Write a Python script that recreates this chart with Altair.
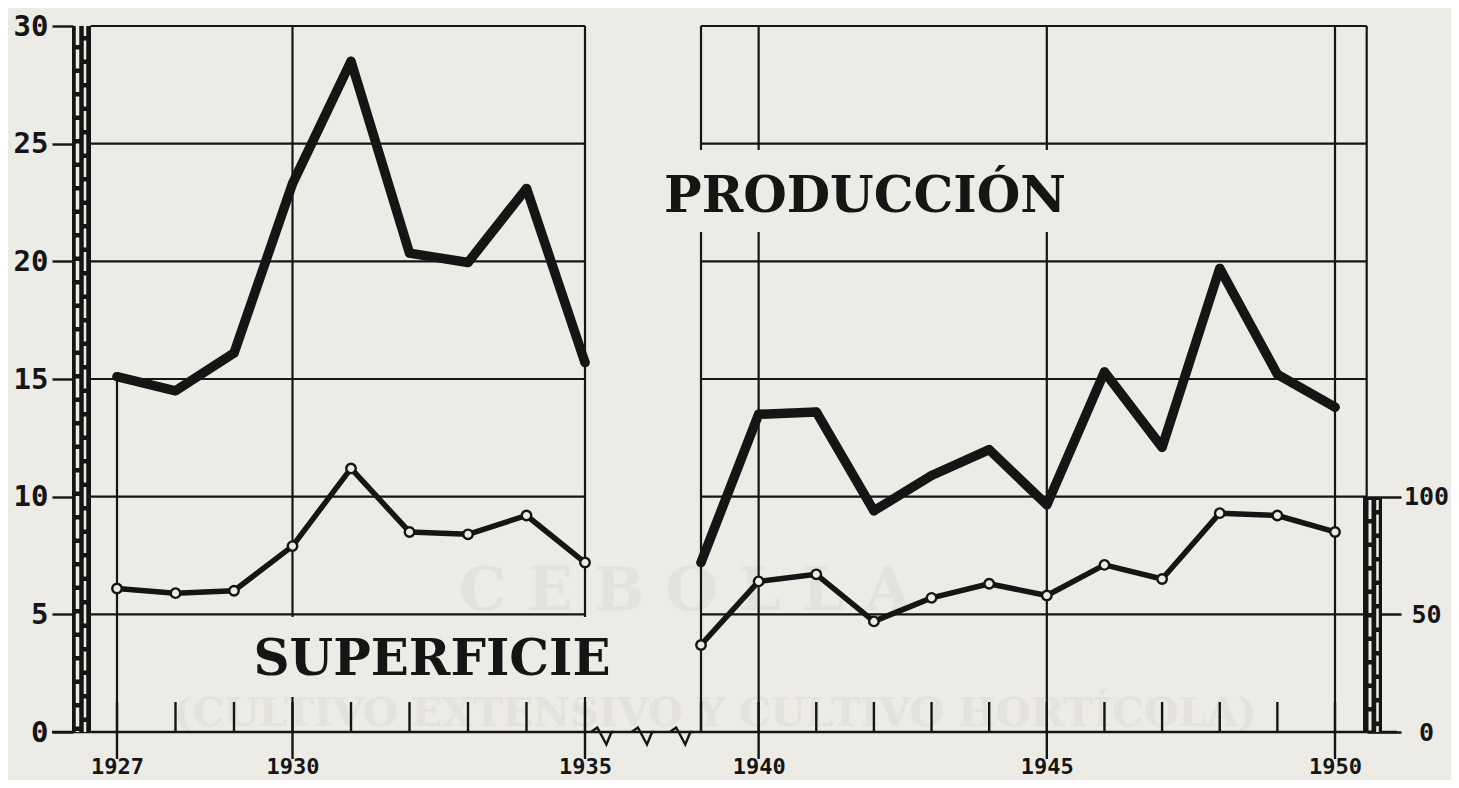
import altair as alt
import pandas as pd

# ---------------- data ----------------
years_1 = list(range(1927, 1936))
years_2 = list(range(1939, 1951))
produccion_1 = [15.1, 14.5, 16.1, 23.3, 28.5, 20.35, 19.95, 23.1, 15.7]
produccion_2 = [7.2, 13.5, 13.6, 9.4, 10.9, 12.0, 9.65, 15.3, 12.1, 19.7, 15.2, 13.8]
superficie_1 = [61, 59, 60, 79, 112, 85, 84, 92, 72]
superficie_2 = [37, 64, 67, 47, 57, 63, 58, 71, 65, 93, 92, 85]
left_ticks = [0, 5, 10, 15, 20, 25, 30]
right_ticks = [0, 50, 100]
year_ticks = [1927, 1930, 1935, 1940, 1945, 1950]
panels = [(1926.55, 1935), (1939, 1950.55)]
label_produccion = "PRODUCCIÓN"
label_superficie = "SUPERFICIE"
ghost_1 = "C E B O L L A"
ghost_2 = "(CULTIVO EXTENSIVO Y CULTIVO HORTÍCOLA)"

# ---------------- styling ----------------
BG = "#ecebe6"
INK = "#151515"
GHOST = "#e3e2dd"
NUM_FONT = "DejaVu Sans Mono"
TITLE_FONT = "DejaVu Serif"
W, H = 1294, 706

rows = []
for seg, (ys, pv, sv) in enumerate([(years_1, produccion_1, superficie_1),
                                     (years_2, produccion_2, superficie_2)]):
    for y, p, s in zip(ys, pv, sv):
        rows.append({"year": y, "prod": p, "sup": s, "seg": seg})
series = pd.DataFrame(rows)

one = pd.DataFrame({"k": [0]})

xscale = alt.Scale(domain=[1927, 1935, 1939, 1950], range=[44, 512, 628, 1262],
                   nice=False, zero=False)
xaxis = alt.Axis(values=year_ticks, format="d", ticks=False, tickSize=0,
                 domain=False, grid=False, labelFont=NUM_FONT,
                 labelFontSize=22, labelFontWeight="bold", labelColor=INK,
                 labelPadding=24, labelFlush=False, labelOverlap=False, title=None)
yscale = alt.Scale(domain=[0, 30], nice=False, zero=True)
yaxis = alt.Axis(values=left_ticks, tickSize=21, tickWidth=2.4, tickColor=INK,
                 domain=False, grid=False, labelFont=NUM_FONT, labelFontSize=29,
                 labelFontWeight="bold", labelColor=INK, labelPadding=4,
                 title=None, orient="left")


def X(field):
    return alt.X(field, type="quantitative", scale=xscale, axis=xaxis)


def Y(field):
    return alt.Y(field, type="quantitative", scale=yscale, axis=yaxis)


# faint show-through text from the reverse page
g1 = alt.Chart(one).mark_text(font=TITLE_FONT, fontWeight="bold", fontSize=60,
                              color=GHOST, align="center", baseline="middle").encode(
    text=alt.value(ghost_1), x=alt.value(612), y=alt.value(566))
g2 = alt.Chart(one).mark_text(font=TITLE_FONT, fontWeight="bold", fontSize=40,
                              color=GHOST, align="center", baseline="middle").encode(
    text=alt.value(ghost_2), x=alt.value(642), y=alt.value(688))

# horizontal grid lines per panel
hg = pd.DataFrame([{"x": a, "x2": b, "v": v} for (a, b) in panels for v in left_ticks if v > 0])
hgrid = alt.Chart(hg).mark_rule(color=INK, strokeWidth=2.2).encode(
    x=X("x"), x2="x2", y=Y("v"))

# vertical grid lines / frames
vx = sorted(set([panels[0][1], panels[1][0], panels[1][1]] +
                [y for y in year_ticks if y != years_1[0]]))
vg = pd.DataFrame({"x": vx, "y0": 0, "y1": left_ticks[-1]})
vgrid = alt.Chart(vg).mark_rule(color=INK, strokeWidth=2.2).encode(
    x=X("x"), y=Y("y0"), y2="y1")

v27 = alt.Chart(pd.DataFrame({"x": [years_1[0]], "y0": [0], "y1": [produccion_1[0]]})).mark_rule(
    color=INK, strokeWidth=2.2).encode(x=X("x"), y=Y("y0"), y2="y1")

# text backgrounds and titles
box_p = alt.Chart(one).mark_rect(color=BG).encode(
    x=alt.value(577), x2=alt.value(1012), y=alt.value(124), y2=alt.value(206))
box_s = alt.Chart(one).mark_rect(color=BG).encode(
    x=alt.value(152), x2=alt.value(567), y=alt.value(591), y2=alt.value(671))
t_p = alt.Chart(one).mark_text(font=TITLE_FONT, fontWeight="bold", fontSize=50,
                               color=INK, align="center", baseline="alphabetic").encode(
    text=alt.value(label_produccion), x=alt.value(792), y=alt.value(186))
t_s = alt.Chart(one).mark_text(font=TITLE_FONT, fontWeight="bold", fontSize=50,
                               color=INK, align="center", baseline="alphabetic").encode(
    text=alt.value(label_superficie), x=alt.value(359), y=alt.value(649))

# minor year ticks above the axis, major ticks below it
minor = alt.Chart(pd.DataFrame({"year": years_1 + years_2})).mark_rule(
    color=INK, strokeWidth=2.4).encode(x=X("year"), y=alt.value(H), y2=alt.value(H - 30))
major = alt.Chart(pd.DataFrame({"year": year_ticks})).mark_rule(
    color=INK, strokeWidth=2.4).encode(x=X("year"), y=alt.value(H), y2=alt.value(H + 27))

# x axis base line
axline = alt.Chart(one).mark_rule(color=INK, strokeWidth=2.6).encode(
    x=alt.value(-21), x2=alt.value(W + 30), y=alt.value(H))

# axis break zigzags
gap_a, gap_b = panels[0][1], panels[1][0]
breaks = pd.DataFrame({"x": [gap_a + (gap_b - gap_a) * f for f in (0.15, 0.5, 0.83)]})
zig = alt.Chart(breaks).mark_point(
    shape="M -1 0 L -0.45 -0.4 L 0.35 1.1 L 0.8 0 L 1 0",
    size=520, filled=False, stroke=INK, strokeWidth=2.4, opacity=1).encode(
    x=X("x"), y=alt.value(H))

# hatched thick bars (left and right)
bar_l = alt.Chart(one).mark_rect(color=INK).encode(
    x=alt.value(-1), x2=alt.value(18), y=alt.value(0), y2=alt.value(H))
dash_l1 = alt.Chart(one).mark_rule(color=BG, strokeWidth=3.5, strokeDash=[19, 4.5]).encode(
    x=alt.value(4.5), y=alt.value(0), y2=alt.value(H))
dash_l2 = alt.Chart(one).mark_rule(color=BG, strokeWidth=2.5, strokeDash=[19, 4.5],
                                   strokeDashOffset=9).encode(
    x=alt.value(12), y=alt.value(0), y2=alt.value(H))
bar_r = alt.Chart(one).mark_rect(color=INK).encode(
    x=alt.value(1290), x2=alt.value(1309), y=alt.value(471), y2=alt.value(H))
dash_r1 = alt.Chart(one).mark_rule(color=BG, strokeWidth=3, strokeDash=[19, 4.5]).encode(
    x=alt.value(1297), y=alt.value(474), y2=alt.value(H))
dash_r2 = alt.Chart(one).mark_rule(color=BG, strokeWidth=2.5, strokeDash=[19, 4.5],
                                   strokeDashOffset=9).encode(
    x=alt.value(1304.5), y=alt.value(474), y2=alt.value(H))

# production series
prod_line = alt.Chart(series).mark_line(color=INK, strokeWidth=9.5, strokeJoin="round",
                                        strokeCap="round").encode(
    x=X("year"), y=Y("prod"), detail="seg:N")
prod_pts = alt.Chart(series).mark_circle(color=INK, size=80, opacity=1).encode(
    x=X("year"), y=Y("prod"))

base = alt.layer(g1, g2, hgrid, vgrid, v27, box_p, box_s, t_p, t_s, minor, major, axline, zig,
                 bar_l, dash_l1, dash_l2, bar_r, dash_r1, dash_r2, prod_line, prod_pts)

# superficie series (right axis)
sy = alt.Y("sup", type="quantitative", scale=alt.Scale(domain=[0, 300], nice=False, zero=True),
           axis=alt.Axis(orient="right", values=right_ticks, tickSize=34, tickWidth=2.4,
                         tickColor=INK, domain=False, grid=False, labelFont=NUM_FONT,
                         labelFontSize=25, labelFontWeight="bold", labelColor=INK,
                         labelAlign="center", labelPadding=25, title=None))
sup_line = alt.Chart(series).mark_line(color=INK, strokeWidth=5.5, strokeJoin="round").encode(
    x=X("year"), y=sy, detail="seg:N")
sup_pts = alt.Chart(series).mark_point(shape="circle", filled=True, fill=BG, stroke=INK,
                                       strokeWidth=2.4, size=90, opacity=1).encode(
    x=X("year"), y=sy)
sup = alt.layer(sup_line, sup_pts)

chart = alt.layer(base, sup).resolve_scale(y="independent").properties(
    width=W, height=H,
    padding={"left": 65, "top": 18, "right": 84, "bottom": 48},
    autosize=alt.AutoSizeParams(type="none"),
    background=BG,
).configure_view(strokeWidth=0)

chart.save("out.html", embed_options={"renderer": "svg", "actions": False})
